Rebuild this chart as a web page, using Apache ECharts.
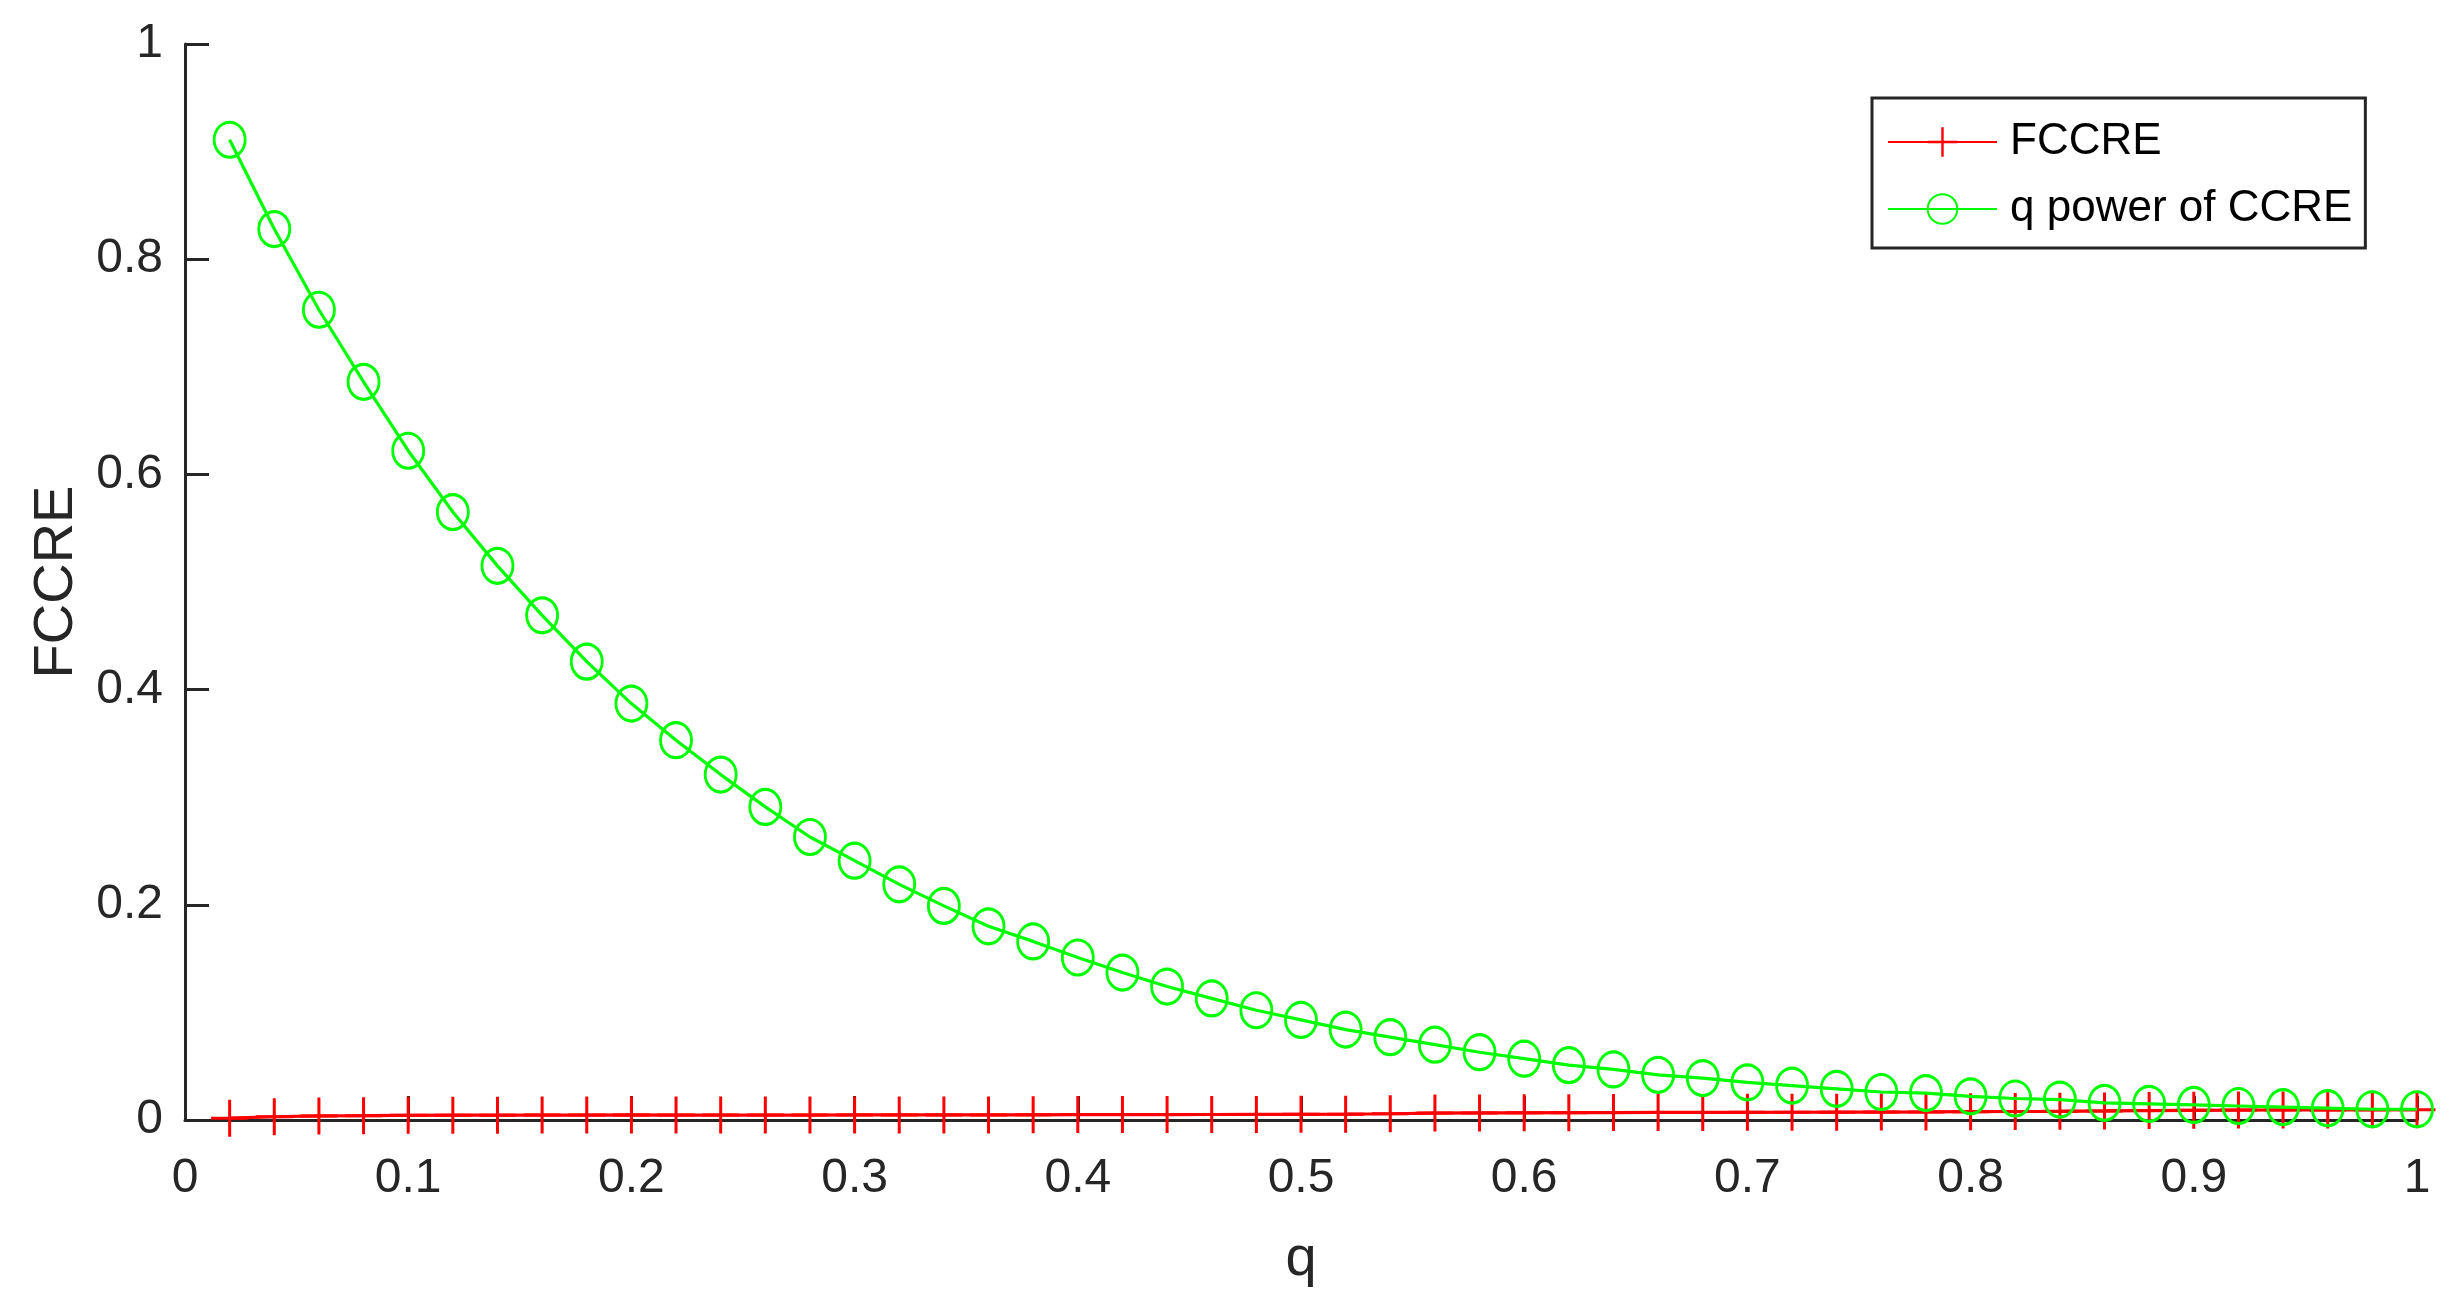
<!DOCTYPE html>
<html>
<head>
<meta charset="utf-8">
<script src="https://cdn.jsdelivr.net/npm/echarts@6/dist/echarts.min.js"></script>
<style>
html,body{margin:0;padding:0;background:#fff;}
#chart{width:2453px;height:1300px;}
</style>
</head>
<body>
<div id="chart"></div>
<script>
// q values (x) 0.02 .. 1.00
const qValues = [0.02,0.04,0.06,0.08,0.10,0.12,0.14,0.16,0.18,0.20,
                 0.22,0.24,0.26,0.28,0.30,0.32,0.34,0.36,0.38,0.40,
                 0.42,0.44,0.46,0.48,0.50,0.52,0.54,0.56,0.58,0.60,
                 0.62,0.64,0.66,0.68,0.70,0.72,0.74,0.76,0.78,0.80,
                 0.82,0.84,0.86,0.88,0.90,0.92,0.94,0.96,0.98,1.00];
// FCCRE (red, plus markers)
const fccre = [0.0017,0.0030,0.0038,0.0040,0.0043,0.0045,0.0045,0.0046,0.0046,0.0047,
               0.0046,0.0046,0.0046,0.0046,0.0047,0.0047,0.0047,0.0047,0.0048,0.0050,
               0.0050,0.0050,0.0051,0.0052,0.0053,0.0054,0.0058,0.0064,0.0066,0.0067,
               0.0068,0.0069,0.0070,0.0070,0.0071,0.0072,0.0073,0.0074,0.0075,0.0077,
               0.0079,0.0081,0.0084,0.0088,0.0090,0.0092,0.0093,0.0094,0.0095,0.0096];
// q power of CCRE (green, circle markers)
const qPowerCCRE = [0.911,0.828,0.753,0.686,0.622,0.565,0.515,0.469,0.426,0.387,
                    0.353,0.321,0.291,0.263,0.241,0.219,0.199,0.180,0.166,0.151,
                    0.137,0.124,0.113,0.102,0.093,0.084,0.077,0.070,0.063,0.057,
                    0.051,0.047,0.042,0.039,0.035,0.032,0.029,0.026,0.025,0.022,
                    0.020,0.019,0.016,0.015,0.014,0.013,0.012,0.011,0.010,0.010];
const seriesNames = ['FCCRE', 'q power of CCRE'];
const xTicks = [0,0.1,0.2,0.3,0.4,0.5,0.6,0.7,0.8,0.9,1];
const yTicks = [0,0.2,0.4,0.6,0.8,1];

const font = 'Liberation Sans, Arial, Helvetica, sans-serif';
const axisColor = '#262626';
const plusPath = 'path://M-1.5,-18.5H1.5V-1.5H18.5V1.5H1.5V18.5H-1.5V1.5H-18.5V-1.5H-1.5Z';

function fmt(v){ return String(Math.round(v*10)/10); }

const chart = echarts.init(document.getElementById('chart'), null, {renderer:'canvas'});
chart.setOption({
  animation: false,
  backgroundColor: '#fff',
  grid: {left:185, right:36, top:44, bottom:180, containLabel:false},
  legend: {
    orient: 'vertical',
    left: 1872, top: 98,
    padding: [22, 13, 17, 15],
    itemGap: 23,
    itemWidth: 109,
    itemHeight: 37,
    backgroundColor: '#fff',
    borderColor: axisColor,
    borderWidth: 3,
    borderRadius: 0,
    textStyle: {fontFamily: font, fontSize: 44, color: '#000', lineHeight: 44, padding:[0,0,0,8]},
    data: seriesNames
  },
  xAxis: {
    type: 'value', min: 0, max: 1, interval: 0.1,
    name: 'q', nameLocation: 'middle', nameGap: 112,
    nameTextStyle: {fontFamily: font, fontSize: 56, color: axisColor},
    axisLine: {show:true, onZero:false, lineStyle:{color:axisColor, width:3}},
    axisTick: {show:true, inside:true, length:24, lineStyle:{color:axisColor, width:3}},
    axisLabel: {fontFamily: font, fontSize: 48, color: axisColor, margin: 35,
                formatter: v => xTicks.some(t => Math.abs(t-v)<1e-9) ? fmt(v) : ''},
    splitLine: {show:false}
  },
  yAxis: {
    type: 'value', min: 0, max: 1, interval: 0.2,
    name: 'FCCRE', nameLocation: 'middle', nameGap: 100, nameRotate: 90,
    nameTextStyle: {fontFamily: font, fontSize: 56, color: axisColor},
    axisLine: {show:true, onZero:false, lineStyle:{color:axisColor, width:3}},
    axisTick: {show:true, inside:true, length:24, lineStyle:{color:axisColor, width:3}},
    axisLabel: {fontFamily: font, fontSize: 48, color: axisColor, margin: 22,
                formatter: v => yTicks.some(t => Math.abs(t-v)<1e-9) ? fmt(v) : ''},
    splitLine: {show:false}
  },
  series: [
    {
      name: seriesNames[0], type: 'line',
      data: qValues.map((q,i) => [q, fccre[i]]),
      symbol: plusPath, symbolSize: 37, showSymbol: true,
      lineStyle: {color:'#ff0000', width:3.2},
      itemStyle: {color:'#ff0000', borderWidth:0},
      z: 3
    },
    {
      name: seriesNames[1], type: 'line',
      data: qValues.map((q,i) => [q, qPowerCCRE[i]]),
      symbol: 'circle', symbolSize: [31, 35], showSymbol: true,
      lineStyle: {color:'#00ff00', width:3.2},
      itemStyle: {color:'rgba(255,255,255,0)', borderColor:'#00ff00', borderWidth:3},
      z: 4
    }
  ]
});
</script>
</body>
</html>
